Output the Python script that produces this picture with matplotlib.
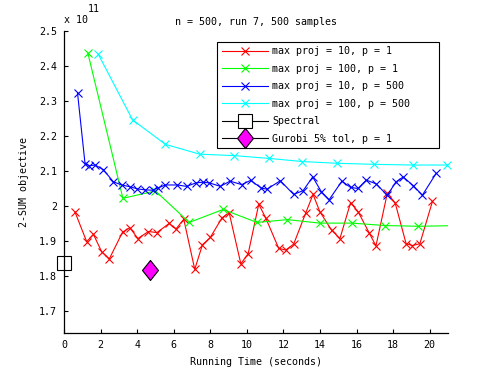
import matplotlib
matplotlib.use("Agg")
import matplotlib.pyplot as plt
import numpy as np
from matplotlib.ticker import FuncFormatter

plt.rcParams['font.family'] = ['DejaVu Sans Mono']
plt.rcParams['font.size'] = 7.2

# values in units of 1e11
red_x = [0.6, 1.24, 1.61, 2.06, 2.48, 3.2, 3.6, 4.04, 4.62, 5.08, 5.75, 6.12, 6.55, 7.15, 7.57,
         8.0, 8.64, 9.03, 9.67, 10.07, 10.65, 11.03, 11.74, 12.13, 12.56, 13.22, 13.62, 13.99,
         14.63, 15.09, 15.67, 16.08, 16.68, 17.06, 17.68, 18.11, 18.71, 19.05, 19.46, 20.15]
red_y = [1.983, 1.898, 1.919, 1.869, 1.849, 1.925, 1.938, 1.907, 1.927, 1.924, 1.950, 1.934,
         1.962, 1.819, 1.889, 1.910, 1.966, 1.981, 1.835, 1.863, 2.005, 1.966, 1.879, 1.874,
         1.891, 1.980, 2.033, 1.984, 1.931, 1.907, 2.009, 1.984, 1.924, 1.886, 2.036, 2.009,
         1.892, 1.887, 1.892, 2.013]

green_x = [1.3, 3.22, 5.0, 6.85, 8.7, 10.55, 12.22, 13.98, 15.75, 17.57, 19.38, 21.6]
green_y = [2.438, 2.022, 2.043, 1.953, 1.990, 1.953, 1.961, 1.951, 1.951, 1.944, 1.942, 1.944]

blue_x = [0.74, 1.15, 1.39, 1.7, 2.15, 2.7, 3.16, 3.6, 4.0, 4.42, 4.85, 5.15, 5.55, 6.2, 6.7,
          7.22, 7.6, 7.95, 8.55, 9.08, 9.72, 10.2, 10.8, 11.1, 11.83, 12.56, 13.08, 13.6, 14.07,
          14.5, 15.2, 15.67, 16.08, 16.53, 17.08, 17.68, 18.14, 18.55, 19.1, 19.6, 20.35]
blue_y = [2.323, 2.121, 2.115, 2.117, 2.104, 2.069, 2.06, 2.055, 2.049, 2.046, 2.045, 2.052,
          2.06, 2.06, 2.056, 2.066, 2.068, 2.066, 2.056, 2.071, 2.061, 2.073, 2.051, 2.048,
          2.072, 2.033, 2.044, 2.083, 2.041, 2.018, 2.071, 2.053, 2.05, 2.074, 2.063, 2.03,
          2.068, 2.083, 2.058, 2.031, 2.093]

cyan_x = [1.86, 3.75, 5.55, 7.42, 9.28, 11.2, 13.02, 14.94, 16.95, 19.07, 20.95]
cyan_y = [2.435, 2.246, 2.176, 2.148, 2.144, 2.136, 2.127, 2.122, 2.119, 2.117, 2.117]

spectral_x = [0.0]
spectral_y = [1.836]
gurobi_x = [4.69]
gurobi_y = [1.817]

labels = ["max proj = 10, p = 1", "max proj = 100, p = 1", "max proj = 10, p = 500",
          "max proj = 100, p = 500", "Spectral", "Gurobi 5% tol, p = 1"]

fig = plt.figure(figsize=(4.95, 3.75), dpi=100)
ax = fig.add_axes([64/495, 1-333/375, (448-64)/495, (333-31)/375])

lw = 0.8
ms = 6
ax.plot(red_x, red_y, '-x', color='#ff0000', lw=lw, ms=ms, mew=0.8, label=labels[0])
ax.plot(green_x, green_y, '-x', color='#00ff00', lw=lw, ms=ms, mew=0.8, label=labels[1])
ax.plot(blue_x, blue_y, '-x', color='#0000ff', lw=lw, ms=ms, mew=0.8, label=labels[2])
ax.plot(cyan_x, cyan_y, '-x', color='#00ffff', lw=lw, ms=ms, mew=0.8, label=labels[3], clip_on=False)
ax.plot(spectral_x, spectral_y, '-s', color='black', mfc='white', mec='black', lw=lw,
        ms=10, mew=0.8, label=labels[4], clip_on=False)
diamond = [(0, 1), (0.8, 0), (0, -1), (-0.8, 0), (0, 1)]
ax.plot(gurobi_x, gurobi_y, '-', marker=diamond, color='black', mfc='#ff00ff', mec='black',
        lw=lw, ms=14.4, mew=0.8, label=labels[5])

ax.set_xlim(0, 21)
ax.set_ylim(1.637, 2.5)
ax.set_xticks(np.arange(0, 21, 2))
ax.set_yticks([1.7, 1.8, 1.9, 2.0, 2.1, 2.2, 2.3, 2.4, 2.5])
ax.yaxis.set_major_formatter(FuncFormatter(lambda v, p: "%g" % round(v, 2)))
ax.tick_params(direction='in', length=3, width=0.8, pad=5)
for s in ['top', 'right']:
    ax.spines[s].set_visible(False)
for s in ['left', 'bottom']:
    ax.spines[s].set_linewidth(0.9)

ax.set_xlabel("Running Time (seconds)", labelpad=5)
ax.set_ylabel("2-SUM objective", labelpad=7)
ax.set_title("n = 500, run 7, 500 samples", pad=4, fontsize=7.2)

fig.text(64/495, 1-23/375, "x 10", fontsize=7.2)
fig.text(88/495, 1-12/375, "11", fontsize=7.2)

leg = ax.legend(loc='upper left', mode='expand',
                bbox_to_anchor=(217/495, 1-146/375, 222/495, 104/375),
                bbox_transform=fig.transFigure, borderaxespad=0, numpoints=1,
                handlelength=4.6, labelspacing=0.74, fancybox=False, framealpha=1,
                edgecolor='black', borderpad=0.45, handletextpad=0.45)
leg.get_frame().set_linewidth(0.8)

fig.savefig("out.png", dpi=100)
